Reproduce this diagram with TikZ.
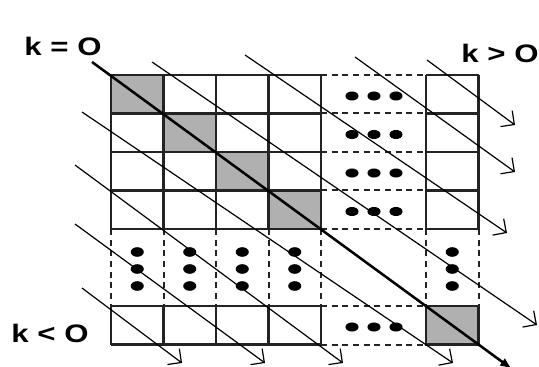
\documentclass[tikz,border=0pt]{standalone}
\usepackage{fontspec}
\usepackage{graphicx}
\setmainfont{Liberation Sans}
\usetikzlibrary{arrows.meta}
\definecolor{cellgray}{RGB}{176,176,176}
\definecolor{gridline}{RGB}{35,35,35}
\tikzset{
  grid line/.style={line width=2.1pt, draw=gridline, line cap=square},
  dash line/.style={line width=1.5pt, draw=gridline, dash pattern=on 4.5pt off 3.5pt},
  diag line/.style={line width=0.9pt, -{Straight Barb[angle=90:10.5pt]}},
  main diag/.style={line width=1.9pt, -{Latex[length=9pt,width=7pt]}},
  kdot/.style={fill=black},
  klabel/.style={inner sep=0pt, font=\bfseries\fontsize{19}{19}\selectfont}
}
\begin{document}
\begin{tikzpicture}[x=0.75pt,y=-0.75pt]
\useasboundingbox (0,0) rectangle (539,367);
\foreach \xa/\ya/\xb/\yb in {111/75/163.5/113.5, 163.5/113.5/216/152, 216/152/268.5/190.5, 268.5/190.5/321/229, 426/306/478.5/344.5}
  \fill[cellgray] (\xa,\ya) rectangle (\xb,\yb);
\foreach \y in {75,113.5,152,190.5,229} {
  \draw[dash line] (321,\y) -- (426,\y);
}
\draw[dash line] (321,306) -- (426,306);
\draw[dash line] (321,344.5) -- (426,344.5);
\foreach \x in {111,163.5,216,268.5,321,426,478.5}
  \draw[dash line] (\x,229) -- (\x,306);
\foreach \x in {111,163.5,216,268.5,321} {
  \draw[grid line] (\x,75) -- (\x,229);
  \draw[grid line] (\x,306) -- (\x,344.5);
}
\foreach \y in {75,113.5,152,190.5,229} {
  \draw[grid line] (111,\y) -- (321,\y);
  \draw[grid line] (426,\y) -- (478.5,\y);
}
\draw[grid line] (426,75) -- (426,229);
\draw[grid line] (478.5,75) -- (478.5,229);
\draw[grid line] (111,306) -- (321,306);
\draw[grid line] (111,344.5) -- (321,344.5);
\draw[grid line] (426,306) rectangle (478.5,344.5);
\foreach \y in {96,134.5,173,211.5,327} {
  \foreach \x in {352,374,396}
    \fill[kdot] (\x,\y) ellipse [x radius=4.9pt, y radius=3.4pt];
}
\foreach \x in {137.25,189.75,242.25,294.75,452.25} {
  \foreach \y in {252,269,286}
    \fill[kdot] (\x,\y) ellipse [x radius=4.9pt, y radius=3.6pt];
}
\draw[main diag] (92,62) -- (512,369);
\draw[diag line] (152,62) -- (537,325);
\draw[diag line] (245,55) -- (507,233);
\draw[diag line] (355,57) -- (515,172);
\draw[diag line] (427,60) -- (515,125);
\draw[diag line] (82,112) -- (453,363);
\draw[diag line] (75,165) -- (343,363);
\draw[diag line] (75,224) -- (265,363);
\draw[diag line] (82,288) -- (182,363);
\node[klabel] (kzero) at (63,46) {\scalebox{1.23}[1]{k = O}};
\node[klabel] (kpos) at (500,53) {\scalebox{1.23}[1]{k > O}};
\node[klabel] (kneg) at (50,333) {\scalebox{1.23}[1]{k < O}};
\end{tikzpicture}
\end{document}
